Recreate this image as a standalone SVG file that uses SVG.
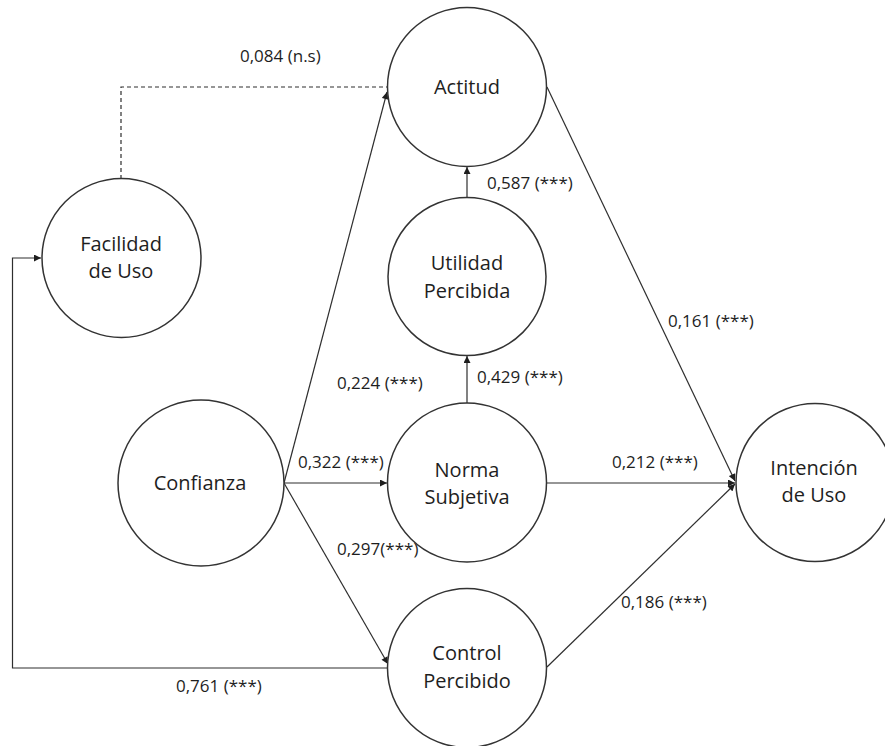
<svg xmlns="http://www.w3.org/2000/svg" width="885" height="746" viewBox="0 0 885 746">
  <style>
    .node circle { fill: #ffffff; stroke: #333333; stroke-width: 1.5; }
    .node text { font-family: "Open Sans", "Liberation Sans", sans-serif; font-size: 20px; fill: #1e1e1e; text-anchor: middle; }
    .edge { fill: none; stroke: #2e2e2e; stroke-width: 1.2; }
    .dashed { stroke-dasharray: 4 3; }
    .lbl { font-family: "Open Sans", "Liberation Sans", sans-serif; font-size: 17px; fill: #1e1e1e; }
  </style>
  <defs>
    <marker id="arrow" viewBox="0 0 10 10" refX="10" refY="5" markerWidth="8" markerHeight="7" markerUnits="userSpaceOnUse" orient="auto">
      <path d="M0,0 L10,5 L0,10 z" fill="#1e1e1e"/>
    </marker>
  </defs>

  <rect width="885" height="746" fill="#ffffff"/>

  <!-- paths between constructs -->
  <g id="connectors">
    <path class="edge dashed" d="M121,179 V87 H387"/>
    <path class="edge" d="M284,483 L387,92" marker-end="url(#arrow)"/>
    <path class="edge" d="M467,197 V167" marker-end="url(#arrow)"/>
    <path class="edge" d="M467,403 V356" marker-end="url(#arrow)"/>
    <path class="edge" d="M284,483 H387" marker-end="url(#arrow)"/>
    <path class="edge" d="M284,483 L388,664" marker-end="url(#arrow)"/>
    <path class="edge" d="M547,87 L735,481" marker-end="url(#arrow)"/>
    <path class="edge" d="M547,483 H735" marker-end="url(#arrow)"/>
    <path class="edge" d="M547,667 L735,484" marker-end="url(#arrow)"/>
    <path class="edge" d="M388,668 H12.5 V258 H41" marker-end="url(#arrow)"/>

    <text class="lbl" x="240" y="62">0,084 (n.s)</text>
    <text class="lbl" x="487" y="189">0,587 (***)</text>
    <text class="lbl" x="668" y="327">0,161 (***)</text>
    <text class="lbl" x="337" y="389">0,224 (***)</text>
    <text class="lbl" x="477" y="383">0,429 (***)</text>
    <text class="lbl" x="298" y="468">0,322 (***)</text>
    <text class="lbl" x="612" y="468">0,212 (***)</text>
    <text class="lbl" x="337" y="555">0,297(***)</text>
    <text class="lbl" x="621" y="608">0,186 (***)</text>
    <text class="lbl" x="176" y="692">0,761 (***)</text>
  </g>

  <g id="actitud" class="node">
    <circle cx="467" cy="87" r="79.5"/>
    <text x="467" y="94">Actitud</text>
  </g>
  <g id="utilidad-percibida" class="node">
    <circle cx="467" cy="276.5" r="79"/>
    <text x="467" y="270">Utilidad</text>
    <text x="467" y="298">Percibida</text>
  </g>
  <g id="facilidad-de-uso" class="node">
    <circle cx="121.5" cy="258" r="79.5"/>
    <text x="121" y="251">Facilidad</text>
    <text x="121" y="278">de Uso</text>
  </g>
  <g id="confianza" class="node">
    <circle cx="201" cy="483" r="83"/>
    <text x="200" y="490">Confianza</text>
  </g>
  <g id="norma-subjetiva" class="node">
    <circle cx="467" cy="482.5" r="79.5"/>
    <text x="467" y="477">Norma</text>
    <text x="467" y="504">Subjetiva</text>
  </g>
  <g id="control-percibido" class="node">
    <circle cx="467" cy="668" r="79.5"/>
    <text x="467" y="660">Control</text>
    <text x="467" y="688">Percibido</text>
  </g>
  <g id="intencion-de-uso" class="node">
    <circle cx="815" cy="482.5" r="79"/>
    <text x="814" y="475">Intención</text>
    <text x="814" y="502">de Uso</text>
  </g>
</svg>
